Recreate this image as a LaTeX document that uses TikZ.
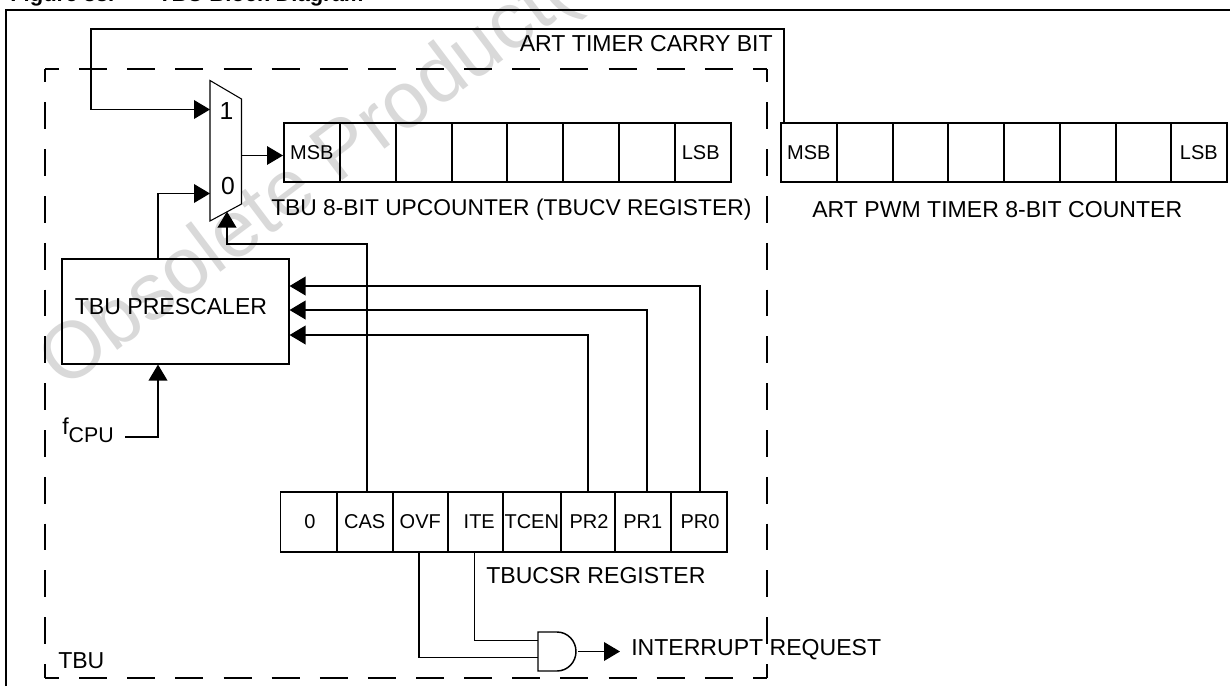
\documentclass[tikz,border=0pt]{standalone}
\usepackage{fontspec}
\setmainfont{Liberation Sans}
\usetikzlibrary{arrows.meta,calc}
\definecolor{wm}{gray}{0.85}
\newcommand{\pxw}[1]{#1*0.75pt}
\newcommand{\celltxt}[1]{\raisebox{-1.5pt}{#1}}
\tikzset{
  x=0.75pt,y=-0.75pt,
  wire/.style={line width=1.1pt,line join=miter},
  arr/.style={wire,-{Triangle[length=12pt,width=14pt]}},
  regcell/.style={draw,line width=1.15pt,minimum height=44.25pt,inner sep=0pt,anchor=north west,font=\fontsize{15pt}{16pt}\selectfont},
  lab/.style={inner sep=0pt,font=\fontsize{17.3pt}{20pt}\selectfont},
  muxlab/.style={inner sep=0pt,font=\fontsize{18.5pt}{20pt}\selectfont},
  frame/.style={line width=1.3pt},
  tbuh/.style={line width=1.1pt,dash pattern=on 21pt off 15.1pt,dash phase=10.5pt},
  tbuv/.style={line width=1.1pt,dash pattern=on 20pt off 15.1pt,dash phase=10pt},
}
\begin{document}
\begin{tikzpicture}
\useasboundingbox (0,0) rectangle (1230,686);
\fill[white] (0,0) rectangle (1230,686);
% watermark
\node[rotate=37,anchor=base west,text=wm,inner sep=0pt,font=\fontsize{60pt}{64pt}\selectfont] (wmark) at (64,391) {Obsolete Product(s)};
% clipped title
\node[anchor=base west,inner sep=0pt,font=\bfseries\fontsize{16.5pt}{18pt}\selectfont] (title) at (10,1) {Figure 38.\hspace{33pt}TBU Block Diagram};
% outer frame
\coordinate (fa) at (6,686); \coordinate (fb) at (6,10); \coordinate (fc) at (1230,10);
\draw[frame] (fa) -- (fb) -- (fc);
% TBU dashed box
\coordinate (tl) at (45,69); \coordinate (tr) at (767,69);
\coordinate (bl) at (45,678); \coordinate (br) at (767,678);
\draw[tbuh] (tl) -- (tr);
\draw[tbuh] (bl) -- (br);
\draw[tbuv] (tl) -- (bl);
\draw[tbuv] (tr) -- (br);
% MUX
\draw[line width=0.8pt,fill=white,fill opacity=0] (210,80.5) -- (241.5,99) -- (241.5,204) -- (210,221) -- cycle;
\coordinate (muxone) at (210,109.5);
\coordinate (muxzero) at (210,193.5);
\coordinate (muxout) at (241.5,155.5);
\coordinate (muxbot) at (227,211.5);
\node[muxlab] (mone) at (226.5,111) {1};
\node[muxlab] (mzero) at (228,186) {0};
% upper counter
\node[regcell,minimum width=\pxw{56}] (a0) at (283,122) {\celltxt{MSB}};
\foreach \n/\a/\w in {a1/339/56,a2/395/56,a3/451/55,a4/506/56,a5/562/56,a6/618/56}{
  \node[regcell,minimum width=\pxw{\w}] (\n) at (\a,122) {};
}
\node[regcell,minimum width=\pxw{56}] (a7) at (674,122) {\celltxt{\kern-3pt LSB}};
% ART counter
\node[regcell,minimum width=\pxw{56}] (b0) at (780,122) {\celltxt{MSB}};
\foreach \n/\a/\w in {b1/836/56,b2/892/55,b3/947/56,b4/1003/56,b5/1059/56,b6/1115/55}{
  \node[regcell,minimum width=\pxw{\w}] (\n) at (\a,122) {};
}
\node[regcell,minimum width=\pxw{56}] (b7) at (1170,122) {\celltxt{LSB}};
% CSR register
\foreach \n/\a/\w/\t in {c0/279.5/56.5/\kern2pt 0,c1/336/56/CAS,c2/392/55/OVF,c3/447/55/\kern6pt ITE,c4/502/58/TCEN,c5/560/54/\kern2pt PR2,c6/614/56/PR1,c7/670/56/\kern2pt PR0}{
  \node[regcell,minimum width=\pxw{\w},minimum height=45pt] (\n) at (\a,491) {\celltxt{\t}};
}
% prescaler
\node[draw,line width=1.15pt,anchor=north west,minimum width=\pxw{227},minimum height=\pxw{105},inner sep=0pt,lab] (pre) at (61,258) {};
\node[lab] (pretext) at (171,307) {TBU PRESCALER};
% labels
\node[lab,anchor=east] (carry) at (773,44) {ART TIMER CARRY BIT};
\node[lab,anchor=west,font=\fontsize{17.1pt}{20pt}\selectfont] (upl) at (271,210) {TBU 8-BIT UPCOUNTER (TBUCV REGISTER)};
\node[lab,anchor=west] (artl) at (812,210) {ART PWM TIMER 8-BIT COUNTER};
\node[lab,anchor=west] (csrl) at (486,576) {TBUCSR REGISTER};
\node[lab,anchor=west] (intl) at (631,650) {INTERRUPT REQUEST};
\node[lab,anchor=west] (tbul) at (58,661) {TBU};
\node[lab,anchor=base west] (fcpu) at (62,434) {f\raisebox{-6pt}{\fontsize{16pt}{16pt}\selectfont CPU}};
% carry wire
\coordinate (ca) at (91,29); \coordinate (cb) at (784,29);
\draw[arr] (b0.north -| 784,0) -- (cb) -- (ca) -- (91,109.5) -- (muxone);
% mux outputs and inputs
\draw[line width=0.8pt,-{Triangle[length=12pt,width=14pt]}] (muxout) -- (a0.west |- muxout);
\draw[arr] (pre.north -| 158,0) -- (158,193.5) -- (muxzero);
\coordinate (fw) at (125,437);
\draw[arr] (fw) -- (158,437) -- (pre.south -| 158,0);
% CAS to mux select
\draw[arr] (c1.north -| 367,0) -- (367,244) -- (227,244) -- (muxbot);
% PR wires
\draw[arr] (c5.north -| 588,0) -- (588,335) -- (pre.east |- 0,335);
\draw[arr] (c6.north -| 647,0) -- (647,310) -- (pre.east |- 0,310);
\draw[arr] (c7.north -| 700,0) -- (700,286) -- (pre.east |- 0,286);
% AND gate
\coordinate (andtop) at (538,632); \coordinate (andbot) at (538,671);
\draw[line width=1.1pt] (andtop) -- (557,632) arc[start angle=90,end angle=-90,x radius=19,y radius=-19.5] -- (andbot) -- cycle;
\draw[wire] (c3.south -| 474.5,0) -- (474.5,640.5) -- (538,640.5);
\draw[wire] (c2.south -| 419,0) -- (419,657.5) -- (538,657.5);
\coordinate (andout) at (578,651.5); \coordinate (intarrow) at (620,651.5);
\draw[arr] (andout) -- (intarrow);
\end{tikzpicture}
\end{document}
